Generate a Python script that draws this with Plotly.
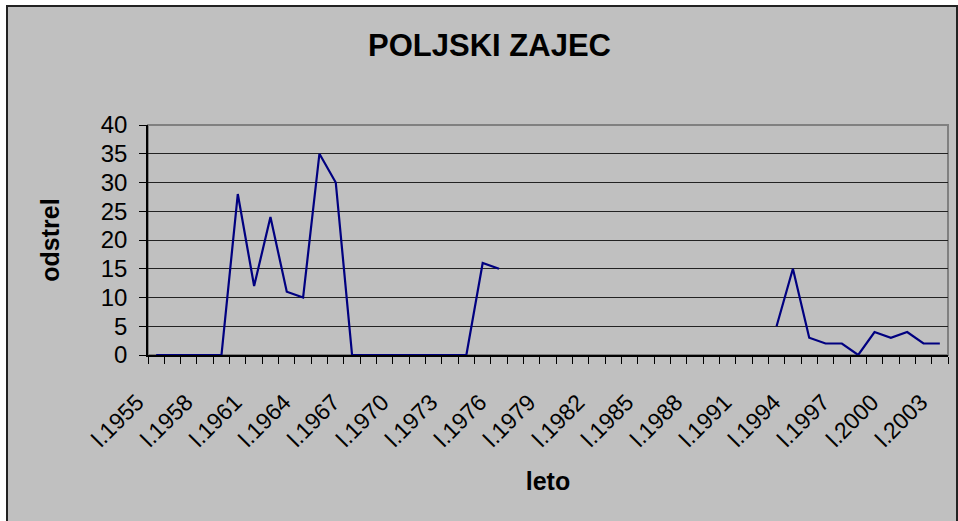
import plotly.graph_objects as go

years = [f"l.{y}" for y in range(1955, 2004)]
odstrel = [0, 0, 0, 0, 0, 28, 12, 24, 11, 10, 35, 30, 0, 0, 0, 0, 0, 0, 0, 0,
           16, 15, None, None, None, None, None, None, None, None, None, None,
           None, None, None, None, None, None, 5, 15, 3, 2, 2, 0, 4, 3, 4, 2, 2]
tick_labels = [lab if i % 3 == 0 else "" for i, lab in enumerate(years)]

FONT = "Liberation Sans, Arial, sans-serif"
L, R, T, B = 148, 10, 125, 166
PW, PH = 958 - L - R, 521 - T - B


def px(x):
    return (x - L) / PW


def py(y):
    return (521 - B - y) / PH


fig = go.Figure()
fig.add_trace(go.Scatter(
    x=years, y=odstrel, mode="lines",
    line=dict(color="#000080", width=2.2),
    connectgaps=False, showlegend=False, hoverinfo="x+y"))

fig.update_layout(
    width=958, height=521,
    margin=dict(l=L, r=R, t=T, b=B),
    paper_bgcolor="white", plot_bgcolor="#C0C0C0",
    font=dict(family=FONT, size=23, color="black"),
    title=dict(text="<b>POLJSKI ZAJEC</b>", x=0.511, xanchor="center",
               y=0.913, yanchor="middle", font=dict(family=FONT, size=31, color="black")),
    xaxis=dict(
        type="category", categoryorder="array", categoryarray=years,
        tickmode="array", tickvals=years, ticktext=tick_labels,
        tickangle=-45, tickson="boundaries", ticks="outside", ticklen=7,
        tickcolor="black", tickwidth=1,
        ticklabelstandoff=23, ticklabelshift=-19,
        showline=True, linecolor="black", linewidth=1.5, showgrid=False,
        range=[-0.5, len(years) - 0.5],
        tickfont=dict(family=FONT, size=23),
        title=dict(text="<b>leto</b>", font=dict(family=FONT, size=25), standoff=22),
        zeroline=False, automargin=False),
    yaxis=dict(
        range=[0, 40], dtick=5, tick0=0, ticks="outside", ticklen=7,
        tickcolor="black", showline=True, linecolor="black", linewidth=1.5,
        showgrid=True, gridcolor="#222222", gridwidth=1.2, zeroline=False,
        ticklabelstandoff=7,
        tickfont=dict(family=FONT, size=24), automargin=False,
        title=dict(text="<b>odstrel</b>", font=dict(family=FONT, size=25), standoff=34)),
    shapes=[
        # outer chart frame, filled gray
        dict(type="rect", xref="paper", yref="paper",
             x0=px(7), x1=px(957), y0=py(540), y1=py(6),
             line=dict(color="#222222", width=2), fillcolor="#C0C0C0", layer="below"),
        # plot area border (top/right) in gray
        dict(type="rect", xref="paper", yref="paper", x0=0, x1=1, y0=0, y1=1,
             line=dict(color="#808080", width=2), fillcolor="rgba(0,0,0,0)", layer="below"),
    ],
)

fig.write_html("out.html", config={"displayModeBar": False},
               post_script="document.body.style.margin='0';document.body.style.overflow='hidden';")
